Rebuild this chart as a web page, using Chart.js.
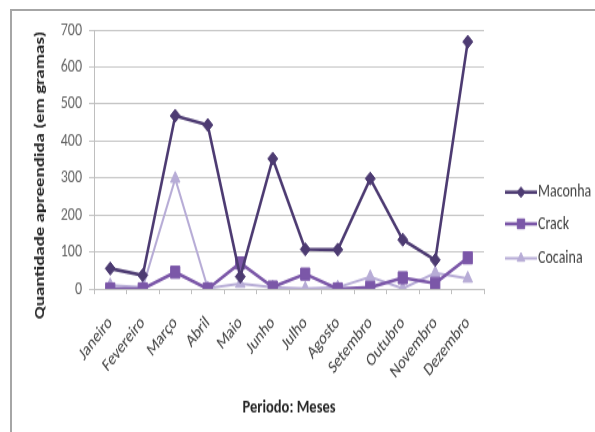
<!DOCTYPE html>
<html>
<head>
<meta charset="utf-8">
<script src="https://cdn.jsdelivr.net/npm/chart.js@4.4.1/dist/chart.umd.min.js"></script>
<style>
  html, body { margin: 0; padding: 0; background: #fff; }
  #wrap { position: relative; width: 595px; height: 432px; overflow: hidden; background: #fff; }
  #frame { position: absolute; left: 10px; top: 9px; width: 600px; height: 440px;
           border-top: 2px solid #a6a6a6; border-left: 2px solid #a6a6a6; }
  /* the plot is laid out on a 595x332 canvas and shown stretched to full height */
  #stretch { position: absolute; left: 0; top: 0; width: 595px; height: 332px;
             transform: scaleY(1.3012); transform-origin: 0 0; }
  canvas { display: block; }
</style>
</head>
<body>
<div id="wrap">
  <div id="frame"></div>
  <div id="stretch"><canvas id="c" width="595" height="332"></canvas></div>
</div>
<script>
const meses = ['Janeiro','Fevereiro','Março','Abril','Maio','Junho','Julho','Agosto','Setembro','Outubro','Novembro','Dezembro'];
const maconha = [55, 37, 468, 443, 33, 352, 107, 106, 298, 133, 78, 668];
const crack   = [0, 0, 45, 0, 70, 5, 40, 0, 4, 30, 15, 84];
const cocaina = [10, 4, 298, 2, 14, 4, 1, 4, 32, 1, 43, 28];
const yTicks  = [0, 100, 200, 300, 400, 500, 600, 700];

const FONT = 'Carlito, "Liberation Sans", sans-serif';

const series = [
  { label: 'Maconha', data: maconha, color: '#4d3b72', style: 'rectRot',  radius: 5,   width: 2.6 },
  { label: 'Crack',   data: crack,   color: '#7b57a8', style: 'rect',     radius: 6.5, width: 2.6 },
  { label: 'Cocaina', data: cocaina, color: '#b7acd6', style: 'triangle', radius: 5.5, width: 2 }
];

// legend on the right: short line with the marker, then the series name
const sideLegend = {
  id: 'sideLegend',
  afterDraw(chart) {
    const ctx = chart.ctx;
    const x0 = 505, x1 = 537;
    const rows = [147.7, 172, 198.5];
    ctx.save();
    series.forEach((s, i) => {
      const y = rows[i];
      ctx.strokeStyle = s.color;
      ctx.fillStyle = s.color;
      ctx.lineWidth = s.width;
      ctx.beginPath(); ctx.moveTo(x0, y); ctx.lineTo(x1, y); ctx.stroke();
      ctx.lineWidth = 1;
      Chart.helpers.drawPoint(ctx, { pointStyle: s.style, radius: s.radius * 0.8, borderWidth: 1 }, (x0 + x1) / 2, y);
      ctx.fillStyle = '#404040';
      ctx.font = '14px ' + FONT;
      ctx.textBaseline = 'middle';
      ctx.textAlign = 'left';
      ctx.fillText(s.label, x1 + 1, y);
    });
    ctx.restore();
  }
};

// vertical title of the value axis
const yTitle = {
  id: 'yTitle',
  afterDraw(chart) {
    const ctx = chart.ctx;
    ctx.save();
    ctx.translate(40, 134.6);
    ctx.rotate(-Math.PI / 2);
    ctx.fillStyle = '#262626';
    ctx.font = 'bold 14.5px ' + FONT;
    ctx.textAlign = 'center';
    ctx.textBaseline = 'middle';
    ctx.fillText('Quantidade apreendida (em gramas)', 0, 0);
    ctx.restore();
  }
};

Chart.defaults.font.family = FONT;

new Chart(document.getElementById('c').getContext('2d'), {
  type: 'line',
  data: {
    labels: meses,
    datasets: series.map(s => ({
      label: s.label,
      data: s.data,
      borderColor: s.color,
      backgroundColor: s.color,
      borderWidth: s.width,
      pointStyle: s.style,
      pointRadius: s.radius,
      pointBorderWidth: 1,
      pointBorderColor: s.color,
      pointBackgroundColor: s.color,
      tension: 0
    }))
  },
  options: {
    responsive: false,
    animation: false,
    layout: { padding: { left: 0, right: 111, top: 23, bottom: 0 } },
    plugins: { legend: { display: false }, tooltip: { enabled: false } },
    scales: {
      x: {
        offset: true,
        grid: { offset: true, drawOnChartArea: false, drawTicks: true, tickLength: 4, color: '#bfbfbf' },
        border: { color: '#bfbfbf' },
        ticks: { maxRotation: 45, minRotation: 45, color: '#404040', font: { size: 14 }, padding: 14, autoSkip: false },
        title: { display: true, text: 'Periodo: Meses', color: '#262626', font: { size: 14.5, weight: 'bold' }, padding: { top: 0, bottom: 10 } },
        afterFit(scale) { scale.height = 110; }
      },
      y: {
        min: 0, max: 700,
        afterBuildTicks(scale) { scale.ticks = yTicks.map(v => ({ value: v })); },
        grid: { color: '#c6c6c6', lineWidth: 1, drawTicks: true, tickLength: 5 },
        border: { color: '#bfbfbf' },
        ticks: { color: '#666666', font: { size: 14 }, padding: 7 },
        afterFit(scale) { scale.width = 94; }
      }
    }
  },
  plugins: [sideLegend, yTitle]
});
</script>
</body>
</html>
